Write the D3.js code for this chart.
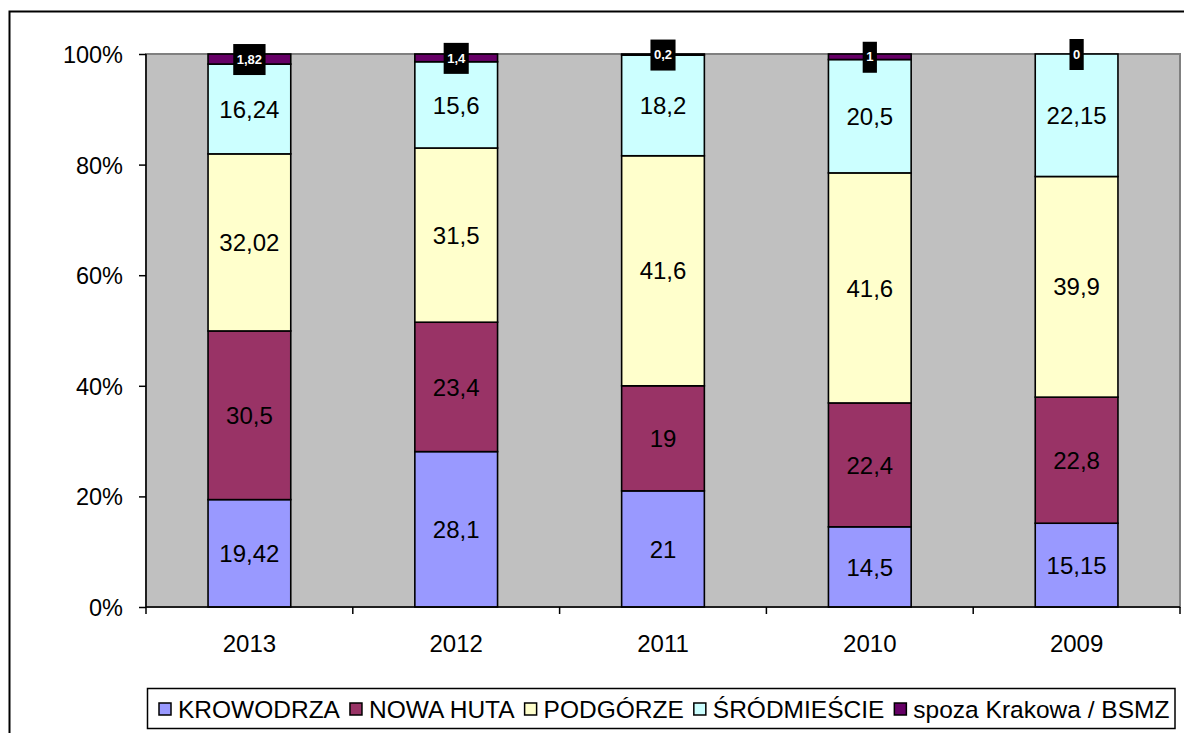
<!DOCTYPE html>
<html>
<head>
<meta charset="utf-8">
<script src="https://cdn.jsdelivr.net/npm/d3@7"></script>
<style>
body{margin:0;background:#fff;}
svg text{font-family:"Liberation Sans",Arial,sans-serif;}
</style>
</head>
<body>
<svg id="chart" width="1184" height="733"></svg>
<script>
var years=["2013","2012","2011","2010","2009"];
var seriesNames=["KROWODRZA","NOWA HUTA","PODGÓRZE","ŚRÓDMIEŚCIE","spoza Krakowa / BSMZ"];
var krowodrza=[19.42,28.1,21,14.5,15.15];
var nowaHuta=[30.5,23.4,19,22.4,22.8];
var podgorze=[32.02,31.5,41.6,41.6,39.9];
var srodmiescie=[16.24,15.6,18.2,20.5,22.15];
var spoza=[1.82,1.4,0.2,1,0];
var yTicks=[0,0.2,0.4,0.6,0.8,1];
var colors=["#9999FF","#993366","#FFFFCC","#CCFFFF","#660066"];

var allSeries=[krowodrza,nowaHuta,podgorze,srodmiescie,spoza];
var keys=["k0","k1","k2","k3","k4"];
var rows=years.map(function(y,i){
	var r={year:y};
	for(var j=0;j<keys.length;j++) r[keys[j]]=allSeries[j][i];
	return r;
});

var svg=d3.select("#chart");
var pLeft=146,pRight=1180,pTop=54,pBottom=607;

// outer frame
svg.append("rect").attr("x",9.5).attr("y",11.5).attr("width",1300).attr("height",900)
	.attr("fill","none").attr("stroke","#000").attr("stroke-width",2);

// plot area
svg.append("rect").attr("x",pLeft).attr("y",pTop).attr("width",pRight-pLeft).attr("height",pBottom-pTop)
	.attr("fill","#C0C0C0").attr("stroke","#808080").attr("stroke-width",2);

var x=d3.scaleBand().domain(years).range([pLeft,pRight]).paddingInner(0.6).paddingOuter(0.3);
var xb=d3.scaleBand().domain(years).range([pLeft,pRight]);
var y=d3.scaleLinear().domain([0,1]).range([pBottom,pTop]);

var stack=d3.stack().keys(keys).offset(d3.stackOffsetExpand)(rows);

var layers=svg.selectAll("g.layer").data(stack).enter().append("g").attr("class","layer")
	.attr("fill",function(d,i){return colors[i];});

layers.selectAll("rect").data(function(d){return d;}).enter().append("rect")
	.attr("x",function(d){return x(d.data.year);})
	.attr("width",x.bandwidth())
	.attr("y",function(d){return y(d[1]);})
	.attr("height",function(d){return y(d[0])-y(d[1]);})
	.attr("stroke","#000").attr("stroke-width",1.6);

function fmt(v){return String(v).replace(".",",");}

// main labels
stack.forEach(function(s,i){
	if(i==4) return;
	s.forEach(function(d){
		svg.append("text")
			.attr("x",x(d.data.year)+x.bandwidth()/2)
			.attr("y",(y(d[0])+y(d[1]))/2)
			.attr("dy","0.36em")
			.attr("text-anchor","middle")
			.attr("font-size",24)
			.attr("fill","#000")
			.text(fmt(d.data[s.key]));
	});
});

// small labels on top series
stack[4].forEach(function(d){
	var cx=x(d.data.year)+x.bandwidth()/2,cy=(y(d[0])+y(d[1]))/2;
	var g=svg.append("g");
	var t=g.append("text").attr("x",cx).attr("y",cy).attr("dy","0.36em")
		.attr("text-anchor","middle").attr("font-size",13).attr("font-weight","bold")
		.attr("fill","#fff").text(fmt(d.data.k4));
	var w=t.node().getComputedTextLength()+7;
	g.insert("rect","text").attr("x",cx-w/2).attr("y",cy-15).attr("width",w).attr("height",31).attr("fill","#000");
});

// axes
var yAxis=d3.axisLeft(y).tickValues(yTicks).tickFormat(d3.format(".0%")).tickSize(7).tickPadding(16);
var ya=svg.append("g").attr("transform","translate("+pLeft+",0)").call(yAxis);
ya.selectAll("text").attr("font-size",23.5).attr("fill","#000").attr("dy","0.36em");
ya.selectAll("line,path").attr("stroke","#000").attr("stroke-width",1.5);
ya.select(".domain").attr("d","M0,"+pTop+"V"+pBottom);

var xa=svg.append("g").attr("transform","translate(0,"+pBottom+")")
	.call(d3.axisBottom(xb).tickSize(0).tickPadding(45));
xa.selectAll("text").attr("font-size",24).attr("fill","#000").attr("dy","0");
xa.select(".domain").attr("d","M"+pLeft+",0H"+pRight).attr("stroke","#000").attr("stroke-width",1.5);
var bounds=years.map(function(yr){return xb(yr);}).concat([pRight]);
xa.selectAll("line.bt").data(bounds).enter().append("line").attr("class","bt")
	.attr("x1",function(d){return d;}).attr("x2",function(d){return d;})
	.attr("y1",0).attr("y2",7).attr("stroke","#000").attr("stroke-width",1.5);

// legend
var lg=svg.append("g");
var lbox=lg.append("rect").attr("x",147.5).attr("y",688.5).attr("height",40)
	.attr("fill","#fff").attr("stroke","#000").attr("stroke-width",1.5);
var lx=159;
seriesNames.forEach(function(n,i){
	lg.append("rect").attr("x",lx).attr("y",703).attr("width",12).attr("height",12)
		.attr("fill",colors[i]).attr("stroke","#000").attr("stroke-width",1.5);
	var t=lg.append("text").attr("x",lx+19).attr("y",718).attr("font-size",24.5).attr("fill","#000")
		.text(n);
	lx+=19+t.node().getComputedTextLength()+10;
});
lbox.attr("width",1175-147.5);
</script>
</body>
</html>
